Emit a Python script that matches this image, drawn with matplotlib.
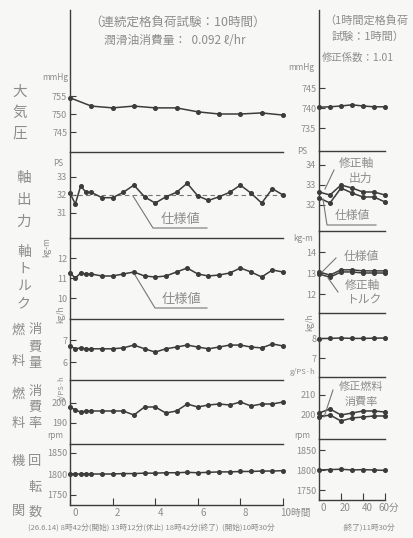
import matplotlib
matplotlib.use("Agg")
import matplotlib.pyplot as plt
from matplotlib.lines import Line2D
from matplotlib.transforms import ScaledTranslation

plt.rcParams['font.family'] = ['Noto Sans CJK JP', 'DejaVu Sans']

# ---------------- data ----------------
# continuous rated-load run (10 h)
press_hours = [0, 1, 2, 3, 4, 5, 6, 7, 8, 9, 10]
pressure = [754.5, 752.2, 751.7, 752.2, 751.7, 751.7, 750.6, 750.0, 750.0, 750.3, 749.7]

run_hours = [0, 0.25, 0.5, 0.75, 1, 1.5, 2, 2.5, 3, 3.5, 4, 4.5, 5, 5.5,
             6, 6.5, 7, 7.5, 8, 8.5, 9, 9.5, 10]
shaft_output = [32.1, 31.5, 32.5, 32.15, 32.15, 31.85, 31.85, 32.15, 32.55, 31.9,
                31.55, 31.9, 32.15, 32.65, 31.95, 31.7, 31.9, 32.15, 32.55, 32.1,
                31.55, 32.35, 32.0]
output_spec = 32.0
shaft_torque = [11.25, 11.0, 11.25, 11.2, 11.2, 11.1, 11.1, 11.2, 11.3, 11.1,
                11.05, 11.1, 11.3, 11.5, 11.2, 11.1, 11.15, 11.25, 11.5, 11.3,
                11.05, 11.4, 11.3]
fuel_flow = [6.73, 6.6, 6.64, 6.6, 6.6, 6.6, 6.6, 6.64, 6.77, 6.6,
             6.45, 6.6, 6.68, 6.77, 6.68, 6.6, 6.68, 6.77, 6.77, 6.68,
             6.64, 6.82, 6.73]
fuel_rate = [198, 196.5, 195.5, 196, 196, 196, 196, 196, 194, 198,
             198, 195, 196, 199.5, 198, 199, 199.5, 199, 200.5, 198.5,
             199.5, 199.5, 200.5]
engine_rpm = [1800, 1800, 1800, 1800, 1800, 1800, 1800, 1801, 1801, 1802,
              1802, 1803, 1803, 1804, 1803, 1804, 1805, 1805, 1806, 1806,
              1807, 1807, 1808]

# one-hour rated-load run (60 min)
run_minutes = [0, 10, 20, 30, 40, 50, 60]
pressure_1h = [740.2, 740.3, 740.5, 740.8, 740.5, 740.3, 740.3]
output_corr_1h = [32.65, 32.5, 33.0, 32.85, 32.65, 32.65, 32.5]
output_1h = [32.35, 32.1, 32.85, 32.6, 32.4, 32.4, 32.15]
torque_corr_1h = [13.05, 12.9, 13.15, 13.15, 13.1, 13.1, 13.1]
torque_1h = [12.95, 12.8, 13.05, 13.05, 13.0, 13.0, 13.0]
fuel_flow_1h = [7.97, 7.98, 8.0, 7.98, 7.98, 7.99, 8.0]
fuel_rate_1h = [201, 203, 200, 201, 202, 202, 201.5]
fuel_rate_corr_1h = [199, 200, 197, 198.5, 199, 199.5, 199.5]
engine_rpm_1h = [1800, 1801, 1802, 1800, 1801, 1800, 1799]

left_ticks = [[755, 750, 745], [33, 32, 31], [12, 11, 10], [7, 6], [200, 190], [1850, 1800, 1750]]
right_ticks = [[745, 740, 735], [34, 33, 32], [14, 13, 12], [8, 7], [210, 200], [1850, 1800, 1750]]
hour_ticks = [0, 2, 4, 6, 8, 10]
hour_labels = ["0", "2", "4", "6", "8", "10時間"]
minute_ticks = [0, 20, 40, 60]
minute_labels = ["0", "20", "40", "60分"]

# ---------------- layout ----------------
W, H = 413, 538
BG = '#f7f7f5'
INK = '#3c3c3c'
TXT = '#8c8c8c'

fig = plt.figure(figsize=(W / 100, H / 100), dpi=100, facecolor=BG)


def fx(x):
    return x / W


def fy(y):
    return 1 - y / H


def ylim_from(top, bottom, ref1, ref2):
    (v1, y1), (v2, y2) = ref1, ref2
    s = (v1 - v2) / (y2 - y1)
    return v1 + (y1 - bottom) * s, v1 + (y1 - top) * s


def make_axes(x0, x1, top, bottom, ref1, ref2, first, last, xlim):
    ax = fig.add_axes([fx(x0), fy(bottom), (x1 - x0) / W, (bottom - top) / H])
    ax.set_facecolor('none')
    ax.set_xlim(*xlim)
    ax.set_ylim(*ylim_from(top, bottom, ref1, ref2))
    ax.spines['right'].set_visible(False)
    ax.spines['top'].set_visible(not first)
    ax.spines['bottom'].set_visible(last)
    for sp in ax.spines.values():
        sp.set_color(INK)
        sp.set_linewidth(1.0)
    ax.tick_params(axis='y', direction='in', length=4, width=0.8, color=INK,
                   labelsize=6.5, labelcolor=TXT, pad=2)
    ax.tick_params(axis='x', direction='in', length=5, width=0.8, color=INK,
                   labelsize=7, labelcolor=TXT, pad=2)
    if not last:
        ax.set_xticks([])
    return ax


def plot_series(ax, x, y):
    ax.plot(x, y, color=INK, lw=1.1, marker='o', ms=2.6, mfc=INK, mec=INK, clip_on=False)


# pixel boxes: (top, bottom, (value, y_px), (value, y_px))
left_boxes = [
    (10, 152, (755, 96), (750, 114)),
    (152, 238, (33, 177), (31, 213)),
    (238, 319, (12, 258), (10, 298)),
    (319, 380, (7, 340), (6, 362)),
    (380, 444, (200, 403), (190, 423)),
    (444, 505, (1850, 453), (1750, 495)),
]
right_boxes = [
    (10, 151, (745, 88), (740, 108)),
    (151, 231, (34, 165), (32, 205)),
    (231, 313, (13, 273), (12, 294)),
    (313, 377, (8, 338), (7, 358)),
    (377, 439, (210, 395), (200, 415)),
    (439, 500, (1850, 450), (1750, 490)),
]

left_axes = []
for i, (top, bot, r1, r2) in enumerate(left_boxes):
    ax = make_axes(70, 283, top, bot, r1, r2, i == 0, i == 5, (0, 10))
    ax.set_yticks(left_ticks[i])
    left_axes.append(ax)

right_axes = []
for i, (top, bot, r1, r2) in enumerate(right_boxes):
    ax = make_axes(319, 385, top, bot, r1, r2, i == 0, i == 5, (0, 60))
    ax.set_yticks(right_ticks[i])
    right_axes.append(ax)

# bottom time axes
axb = left_axes[-1]
axb.set_xticks(hour_ticks)
axb.set_xticklabels(hour_labels)
for k, lab in enumerate(axb.get_xticklabels()):
    dx = 12 if k == len(hour_labels) - 1 else 5
    lab.set_transform(lab.get_transform() + ScaledTranslation(dx / 100, 0, fig.dpi_scale_trans))
axr = right_axes[-1]
axr.set_xticks(minute_ticks)
axr.set_xticklabels(minute_labels)
for lab in axr.get_xticklabels():
    lab.set_transform(lab.get_transform() + ScaledTranslation(4 / 100, 0, fig.dpi_scale_trans))

# ---------------- series ----------------
plot_series(left_axes[0], press_hours, pressure)
left_axes[1].axhline(output_spec, color='#777777', lw=0.8, ls=(0, (4, 3)))
plot_series(left_axes[1], run_hours, shaft_output)
plot_series(left_axes[2], run_hours, shaft_torque)
plot_series(left_axes[3], run_hours, fuel_flow)
plot_series(left_axes[4], run_hours, fuel_rate)
plot_series(left_axes[5], run_hours, engine_rpm)

plot_series(right_axes[0], run_minutes, pressure_1h)
plot_series(right_axes[1], run_minutes, output_corr_1h)
plot_series(right_axes[1], run_minutes, output_1h)
plot_series(right_axes[2], run_minutes, torque_corr_1h)
plot_series(right_axes[2], run_minutes, torque_1h)
plot_series(right_axes[3], run_minutes, fuel_flow_1h)
plot_series(right_axes[4], run_minutes, fuel_rate_1h)
plot_series(right_axes[4], run_minutes, fuel_rate_corr_1h)
plot_series(right_axes[5], run_minutes, engine_rpm_1h)


# ---------------- text helpers ----------------
def txt(x, y, s, size=7, ha='center', va='center', rot=0, color=TXT, ls=1.0):
    fig.text(fx(x), fy(y), s, fontsize=size, ha=ha, va=va, rotation=rot,
             color=color, linespacing=ls)


def leader(points, lw=0.8):
    xs = [fx(p[0]) for p in points]
    ys = [fy(p[1]) for p in points]
    fig.add_artist(Line2D(xs, ys, transform=fig.transFigure, color='#777777', lw=lw))


def vtext(x, y0, y1, s, size=10):
    n = len(s)
    for k, ch in enumerate(s):
        y = y0 if n == 1 else y0 + (y1 - y0) * k / (n - 1)
        txt(x, y, ch, size=size)


# titles
txt(178, 22, "（連続定格負荷試験：10時間）", size=9)
txt(175, 41, "潤滑油消費量：  0.092 ℓ/hr", size=8.5)
txt(366, 20, "（1時間定格負荷", size=8)
txt(368, 37, "試験：1時間）", size=8)
txt(358, 58, "修正係数：1.01", size=7.5)

# row captions (vertical)
vtext(20, 92, 134, "大気圧", size=10.5)
vtext(24, 178, 222, "軸出力", size=10.5)
vtext(24, 252, 303, "軸トルク", size=10)
vtext(18, 330, 362, "燃料", size=9.5)
vtext(35, 330, 364, "消費量", size=9.5)
vtext(18, 394, 424, "燃料", size=9.5)
vtext(35, 392, 424, "消費率", size=9.5)
vtext(18, 462, 512, "機関", size=9.5)
vtext(35, 462, 512, "回転数", size=9.5)

# units
txt(55, 77, "mmHg", size=6)
txt(58, 164, "PS", size=6)
txt(47, 247, "kg-m", size=6, rot=90)
txt(61, 314, "kg/h", size=6, rot=90)
txt(62, 388, "g/PS·h", size=5.5, rot=90)
txt(55, 436, "rpm", size=6)
txt(301, 67, "mmHg", size=6)
txt(302, 152, "PS", size=6)
txt(303, 239, "kg-m", size=6)
txt(310, 322, "kg/h", size=6, rot=90)
txt(303, 372, "g/PS·h", size=5.5)
txt(302, 436, "rpm", size=6)

# annotations, left panels
leader([(133, 196), (153, 228), (207, 228)])
txt(181, 219, "仕様値", size=9.5)
leader([(135, 275), (155, 308), (207, 308)])
txt(182, 300, "仕様値", size=9.5)

# annotations, right panels
txt(356, 163, "修正軸", size=8.5)
txt(360, 178, "出力", size=8.5)
leader([(334, 170), (325, 189)])
leader([(323, 199), (327, 225), (376, 225)])
txt(352, 216, "仕様値", size=8.5)
txt(361, 257, "仕様値", size=8.5)
leader([(336, 258), (322, 272)])
txt(362, 285, "修正軸", size=8.5)
txt(364, 300, "トルク", size=8.5)
leader([(338, 292), (328, 278)])
txt(361, 387, "修正燃料", size=8)
txt(361, 402, "消費率", size=8)
leader([(333, 390), (324, 417)])

# test log line
txt(28, 528, "(26.6.14) 8時42分(開始) 13時12分(休止) 18時42分(終了)  (開始)10時30分",
    size=5.5, ha='left')
txt(395, 528, "(終了)11時30分", size=5.5, ha='right')

fig.savefig("out.png", dpi=100, facecolor=BG)
